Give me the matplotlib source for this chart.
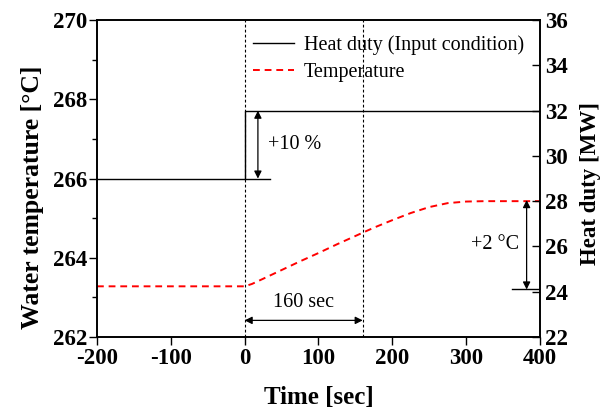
import matplotlib
matplotlib.use("Agg")
import matplotlib.pyplot as plt
from matplotlib.ticker import MultipleLocator

plt.rcParams["font.family"] = ["Liberation Serif", "DejaVu Serif"]
plt.rcParams["axes.unicode_minus"] = False

# Heat duty step input (right axis, MW)
duty_time = [-200, 0, 0, 400]
duty_mw = [29.0, 29.0, 32.0, 32.0]

# Water temperature response (left axis, degC)
temp_time = [-200, 0, 10, 25, 50, 75, 100, 125, 150, 175, 200, 225, 250,
             275, 300, 325, 400]
temp_c = [263.28, 263.28, 263.34, 263.47, 263.69, 263.91, 264.12, 264.34,
          264.55, 264.76, 264.95, 265.13, 265.28, 265.38, 265.42, 265.43,
          265.43]

step_start = 0
step_end = 160

fig = plt.figure(figsize=(6.08, 4.11), dpi=100)
ax = fig.add_axes([0.1595, 0.18, 0.7285, 0.771])
ax2 = ax.twinx()

l_temp, = ax.plot(temp_time, temp_c, color="red", linestyle=(0, (3.5, 2.5)),
                  linewidth=1.4, label="Temperature")
l_duty, = ax2.plot(duty_time, duty_mw, color="black", linewidth=1.0,
                   label="Heat duty (Input condition)")

ax.set_xlim(-200, 400)
ax.set_ylim(262, 270)
ax2.set_ylim(22, 36)

# dotted markers for the step and 160 s later
for xv in (step_start, step_end):
    ax.axvline(xv, color="black", linestyle=(0, (2.5, 2)), linewidth=0.8)

arrow = dict(arrowstyle="<|-|>", color="black", lw=0.9,
             mutation_scale=11, shrinkA=0, shrinkB=0)

# +10 % annotation
ax2.plot([0, 34], [29.0, 29.0], color="black", linewidth=1.0)
ax2.annotate("", xy=(18, 32.0), xytext=(18, 29.0), arrowprops=arrow)
ax2.text(31, 30.5, "+10 %", fontsize=14.5, va="center", ha="left")

# 160 sec annotation
ax.annotate("", xy=(step_start, 262.42), xytext=(step_end, 262.42),
            arrowprops=arrow)
ax.text(80, 262.88, "160 sec", fontsize=14.5, ha="center", va="center")

# +2 degC annotation
ax2.plot([362, 400], [24.1, 24.1], color="black", linewidth=1.0)
ax2.annotate("", xy=(382, 28.05), xytext=(382, 24.1), arrowprops=arrow)
ax2.text(372, 26.1, "+2 \u00b0C", fontsize=14.5, ha="right", va="center")

ax.xaxis.set_major_locator(MultipleLocator(100))
ax.yaxis.set_major_locator(MultipleLocator(2))
ax.yaxis.set_minor_locator(MultipleLocator(1))
ax2.yaxis.set_major_locator(MultipleLocator(2))

ax.tick_params(axis="x", direction="out", length=6, width=1, top=False,
               labelsize=16.5, pad=2)
ax.tick_params(axis="y", which="major", direction="out", length=6, width=1,
               labelsize=16.5, pad=1)
ax.tick_params(axis="y", which="minor", direction="out", length=3.5, width=1)
ax2.tick_params(axis="y", direction="in", length=6, width=1, labelsize=16.5,
                pad=4)
for lab in ax.get_xticklabels() + ax.get_yticklabels() + ax2.get_yticklabels():
    lab.set_fontweight("bold")

for a in (ax, ax2):
    for sp in a.spines.values():
        sp.set_linewidth(1.2)

ax.set_xlabel("Time [sec]", fontsize=18, fontweight="bold")
ax.xaxis.set_label_coords(0.5, -0.155)
ax.set_ylabel("Water temperature [\u00b0C]", fontsize=18.5, fontweight="bold")
ax.yaxis.set_label_coords(-0.12, 0.44)
ax2.set_ylabel("Heat duty [MW]", fontsize=16.5, fontweight="bold")
ax2.yaxis.set_label_coords(1.09, 0.485)

ax2.legend([l_duty, l_temp], [l_duty.get_label(), l_temp.get_label()],
           loc="upper left", bbox_to_anchor=(0.312, 1.01), frameon=False,
           fontsize=14.5, handlelength=2.0, handletextpad=0.5,
           labelspacing=0.4)

fig.savefig("out.png", dpi=100)
